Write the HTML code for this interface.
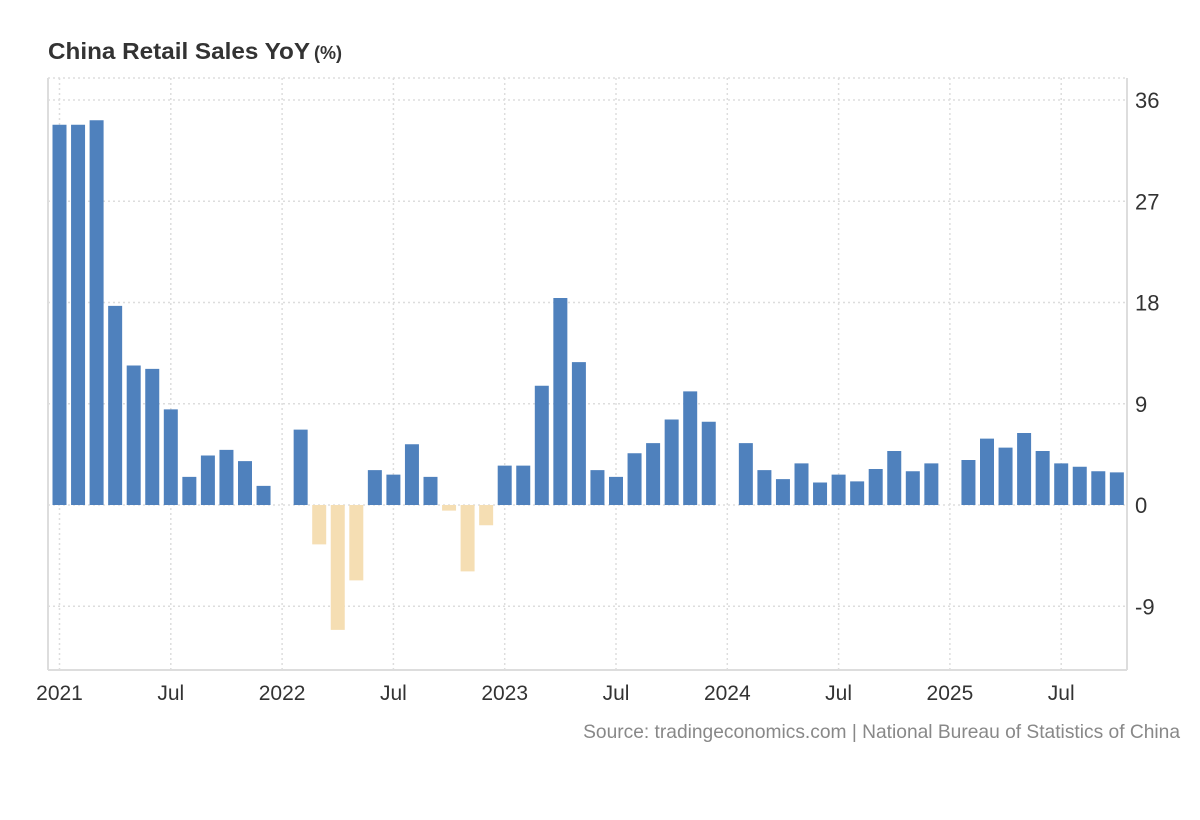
<!DOCTYPE html>
<html><head><meta charset="utf-8"><style>
body{margin:0;background:#fff;}
svg{display:block;font-family:"Liberation Sans",Arial,sans-serif;}
</style></head><body>
<svg id="chart" width="1200" height="820" xmlns="http://www.w3.org/2000/svg">
<text x="48" y="59" font-size="23.5" font-weight="bold" fill="#333" textLength="262" lengthAdjust="spacingAndGlyphs">China Retail Sales YoY</text>
<text x="314" y="59" font-size="18" font-weight="bold" fill="#333">(%)</text>
<g id="grid"></g>
<g id="bars"></g>
<g id="axes"></g>
<text x="1180" y="738" font-size="19.2" fill="#888" text-anchor="end">Source: tradingeconomics.com | National Bureau of Statistics of China</text>
</svg>
<script>
const months = [];
for (let y = 2021; y <= 2025; y++) for (let m = 0; m < 12; m++) { if (y === 2025 && m > 9) break; months.push(y + '-' + (m + 1)); }
const values = [
 33.8,33.8,34.2,17.7,12.4,12.1,8.5,2.5,4.4,4.9,3.9,1.7,
 null,6.7,-3.5,-11.1,-6.7,3.1,2.7,5.4,2.5,-0.5,-5.9,-1.8,
 3.5,3.5,10.6,18.4,12.7,3.1,2.5,4.6,5.5,7.6,10.1,7.4,
 null,5.5,3.1,2.3,3.7,2.0,2.7,2.1,3.2,4.8,3.0,3.7,
 null,4.0,5.9,5.1,6.4,4.8,3.7,3.4,3.0,2.9
];
const yTicks = [36,27,18,9,0,-9];
const xTickLabels = ['2021','Jul','2022','Jul','2023','Jul','2024','Jul','2025','Jul'];
const xTickIdx = [0,6,12,18,24,30,36,42,48,54];

const NS='http://www.w3.org/2000/svg';
const L=48,R=1127,T=78,B=670;
const x0=59.5, step=18.55;
const xs=i=>x0+i*step;
const ys=v=>505-v*11.25;
function mk(tag,attrs,parent,txt){const e=document.createElementNS(NS,tag);for(const k in attrs)e.setAttribute(k,attrs[k]);if(txt!==undefined)e.textContent=txt;parent.appendChild(e);return e;}
const grid=document.getElementById('grid'),bars=document.getElementById('bars'),axes=document.getElementById('axes');
yTicks.forEach(v=>{
 const g=mk('line',{x1:L,x2:R,y1:ys(v),y2:ys(v),stroke:'#ddd','stroke-dasharray':'2,3','stroke-width':1.5},grid);
 
 
 const t=mk('text',{x:1135,y:ys(v)+8,'font-size':22,fill:'#333'},axes,String(v));
 
 
});
mk('line',{x1:L,x2:R,y1:T,y2:T,stroke:'#ddd','stroke-dasharray':'2,3','stroke-width':1.5},grid);
xTickIdx.forEach((idx,k)=>{
 const g=mk('line',{x1:xs(idx),x2:xs(idx),y1:T,y2:B,stroke:'#ddd','stroke-dasharray':'2,3','stroke-width':1.5},grid);
 
 
 const t=mk('text',{x:xs(idx),y:700,'font-size':21,fill:'#333','text-anchor':'middle'},axes,xTickLabels[k]);
 
 
});
values.forEach((v,i)=>{
 if(v===null)return;
 const y1=ys(Math.max(v,0)),y2=ys(Math.min(v,0));
 const r=mk('rect',{x:xs(i)-7,y:y1,width:14,height:Math.max(y2-y1,1),fill:v<0?'#f5deb3':'#4f81bd'},bars);
 
 
});
const ax1=mk('line',{x1:L,x2:L,y1:T,y2:B,stroke:'#ddd','stroke-width':2},axes);


const ax2=mk('line',{x1:R,x2:R,y1:T,y2:B,stroke:'#ddd','stroke-width':2},axes);


const ax3=mk('line',{x1:L,x2:R,y1:B,y2:B,stroke:'#ddd','stroke-width':2},axes);


</script>
</body></html>
